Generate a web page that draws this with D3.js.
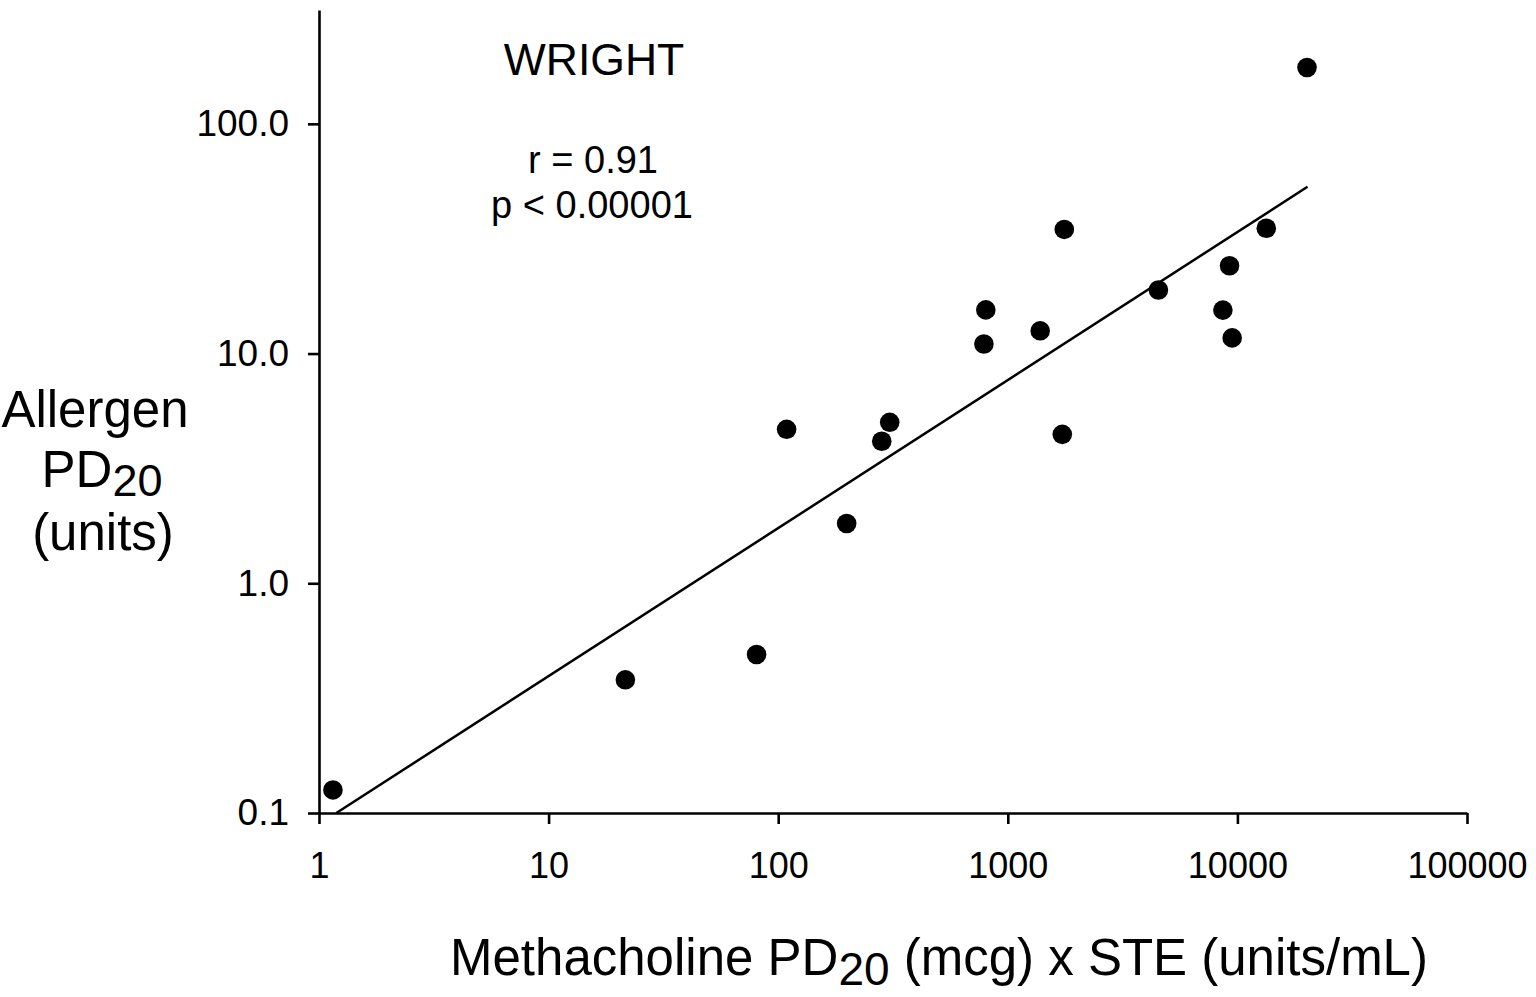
<!DOCTYPE html>
<html>
<head>
<meta charset="utf-8">
<script src="https://cdn.jsdelivr.net/npm/d3@7/dist/d3.min.js"></script>
<style>
  html, body { margin: 0; padding: 0; background: #fff; }
  svg { display: block; }
  text { font-family: "Liberation Sans", Arial, sans-serif; fill: #000; }
</style>
</head>
<body>
<svg id="chart" width="1536" height="997"></svg>
<script>
// Data
const methacholineSTE = [1.15, 21.6, 80.5, 108.8, 198.7, 282.5, 306, 787, 802, 1384, 1727, 1762, 4529, 8645, 9242, 9489, 13358, 20100];
const allergenPD20   = [0.126, 0.38, 0.49, 4.68, 1.82, 4.15, 5.02, 11.0, 15.5, 12.56, 4.45, 34.7, 18.9, 15.46, 24.1, 11.7, 35.1, 175.8];
const fitX = [1.19, 20200];
const fitY = [0.1, 53.2];
const xTicks = [1, 10, 100, 1000, 10000, 100000];
const xTickLabels = ["1", "10", "100", "1000", "10000", "100000"];
const yTicks = [0.1, 1, 10, 100];
const yTickLabels = ["0.1", "1.0", "10.0", "100.0"];
const titleText = "WRIGHT";
const statLines = ["r = 0.91", "p < 0.00001"];

const svg = d3.select("#chart");

const x = d3.scaleLog().domain([1, 100000]).range([319, 1467]);
const y = d3.scaleLog().domain([0.1, 313]).range([813, 10]);

// X axis
const xAxis = d3.axisBottom(x)
  .tickValues(xTicks)
  .tickFormat((d, i) => xTickLabels[i])
  .tickSizeInner(11).tickSizeOuter(0).tickPadding(28);
const gx = svg.append("g").attr("transform", "translate(0,813)").call(xAxis);
gx.select(".domain").attr("stroke", "#000").attr("stroke-width", 2.6);
gx.selectAll(".tick line").attr("stroke", "#000").attr("stroke-width", 2.6);
gx.selectAll(".tick text").attr("font-size", 36).attr("font-family", "Liberation Sans, Arial, sans-serif").attr("fill", "#000");

// Y axis
const yAxis = d3.axisLeft(y)
  .tickValues(yTicks)
  .tickFormat((d, i) => yTickLabels[i])
  .tickSizeInner(11).tickSizeOuter(0).tickPadding(19);
const gy = svg.append("g").attr("transform", "translate(319,0)").call(yAxis);
gy.select(".domain").attr("stroke", "#000").attr("stroke-width", 2.6);
gy.selectAll(".tick line").attr("stroke", "#000").attr("stroke-width", 2.6);
gy.selectAll(".tick text").attr("font-size", 37).attr("font-family", "Liberation Sans, Arial, sans-serif").attr("fill", "#000");

// Regression line
svg.append("path")
  .datum(fitX.map((v, i) => [v, fitY[i]]))
  .attr("d", d3.line().x(d => x(d[0])).y(d => y(d[1])))
  .attr("fill", "none").attr("stroke", "#000").attr("stroke-width", 2.5);

// Points
svg.append("g").selectAll("circle")
  .data(methacholineSTE.map((v, i) => [v, allergenPD20[i]]))
  .join("circle")
  .attr("cx", d => x(d[0])).attr("cy", d => y(d[1]))
  .attr("r", 9.8).attr("fill", "#000");

// Title and stats
svg.append("text").attr("x", 594).attr("y", 75).attr("text-anchor", "middle")
  .attr("font-size", 44.5).text(titleText);
svg.append("text").attr("x", 593).attr("y", 173).attr("text-anchor", "middle")
  .attr("font-size", 38).text(statLines[0]);
svg.append("text").attr("x", 592).attr("y", 218).attr("text-anchor", "middle")
  .attr("font-size", 38).text(statLines[1]);

// Y axis label
const yl = svg.append("g").attr("font-size", 51);
yl.append("text").attr("x", 95).attr("y", 427).attr("text-anchor", "middle").text("Allergen");
const pd = yl.append("text").attr("x", 102).attr("y", 487).attr("text-anchor", "middle");
pd.append("tspan").text("PD");
pd.append("tspan").attr("dy", 9).attr("font-size", 45).text("20");
yl.append("text").attr("x", 103).attr("y", 550).attr("text-anchor", "middle").text("(units)");

// X axis label
const xl = svg.append("text").attr("x", 939).attr("y", 975).attr("text-anchor", "middle").attr("font-size", 51);
xl.append("tspan").text("Methacholine PD");
xl.append("tspan").attr("dy", 10).attr("font-size", 46).text("20");
xl.append("tspan").attr("dy", -10).text(" (mcg) x STE (units/mL)");
</script>
</body>
</html>
